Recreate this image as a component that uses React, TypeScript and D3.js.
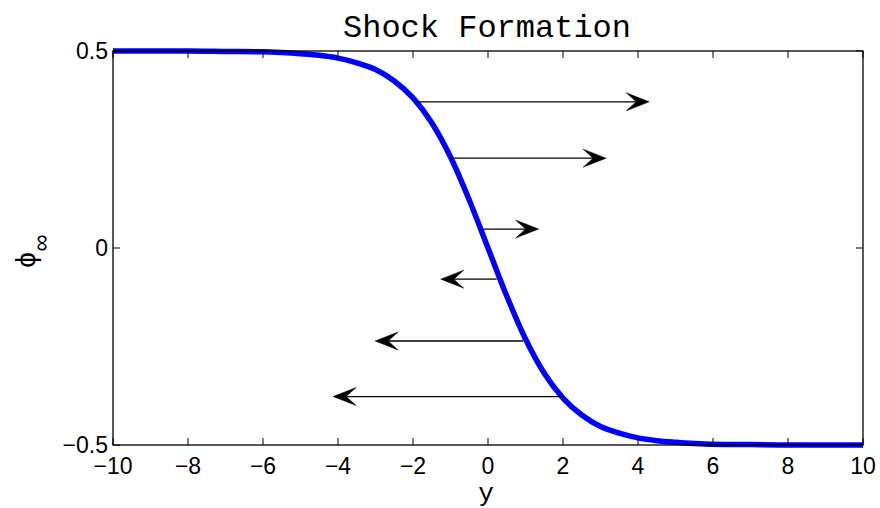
import React from "react";
import * as d3 from "d3";

// Curve samples: position y and phi_inf
const curveX = [-10, -9, -8, -7, -6, -5.5, -5, -4.5, -4, -3.5, -3, -2.5, -2, -1.5, -1, -0.5, 0, 0.5, 1, 1.5, 2, 2.5, 3, 3.5, 4, 4.5, 5, 5.5, 6, 7, 8, 9, 10];
const curveY = [0.5, 0.5, 0.5, 0.499, 0.498, 0.496, 0.493, 0.489, 0.482, 0.47, 0.453, 0.424, 0.381, 0.318, 0.231, 0.122, 0.0, -0.122, -0.231, -0.318, -0.381, -0.424, -0.453, -0.47, -0.482, -0.489, -0.493, -0.496, -0.498, -0.499, -0.5, -0.5, -0.5];

// Arrows: level (phi), start x (on curve), tip x
const arrowPhi = [0.371, 0.228, 0.048, -0.079, -0.236, -0.377];
const arrowStart = [-1.92, -1.01, -0.125, 0.23, 0.94, 2.01];
const arrowEnd = [4.3, 3.15, 1.35, -1.26, -3.01, -4.13];

const xTicks = [-10, -8, -6, -4, -2, 0, 2, 4, 6, 8, 10];
const yTicks = [-0.5, 0, 0.5];
const yTickLabels = ["\u22120.5", "0", "0.5"];

const titleText = "Shock Formation";
const xLabel = "y";
const yLabelMain = "\u03d5";
const yLabelSub = "\u221e";

const W = 880;
const H = 508;
const L = 113, R = 863, T = 51, B = 445;

export default function App() {
  const x = d3.scaleLinear().domain([-10, 10]).range([L, R]);
  const y = d3.scaleLinear().domain([-0.5, 0.5]).range([B, T]);
  const line = d3
    .line<number>()
    .x((_, i) => x(curveX[i]))
    .y((d) => y(d))
    .curve(d3.curveMonotoneX);
  const sans = "'Liberation Sans', Arial, Helvetica, sans-serif";
  const mono = "'Liberation Mono', 'Courier New', Courier, monospace";
  const tickLen = 7;

  const arrowHead = (tx: number, ty: number, dir: number) => {
    const hl = 23, hw = 9, notch = 13;
    return `M${tx},${ty} L${tx - dir * hl},${ty - hw} L${tx - dir * notch},${ty} L${tx - dir * hl},${ty + hw} Z`;
  };

  return (
    <svg
      width={W}
      height={H}
      style={{ position: "absolute", left: 0, top: 0, background: "#fff" }}
    >
      <rect x={0} y={0} width={W} height={H} fill="#fff" />
      <path
        d={line(curveY) || ""}
        fill="none"
        stroke="#0000ff"
        strokeWidth={5.5}
        strokeLinejoin="round"
      />
      {arrowPhi.map((p, i) => {
        const sx = x(arrowStart[i]);
        const tx = x(arrowEnd[i]);
        const ty = y(p);
        const dir = tx > sx ? 1 : -1;
        return (
          <g key={i}>
            <line x1={sx} y1={ty} x2={tx - dir * 13} y2={ty} stroke="#000" strokeWidth={1.3} />
            <path d={arrowHead(tx, ty, dir)} fill="#000" stroke="#000" strokeWidth={0.5} strokeLinejoin="miter" />
          </g>
        );
      })}
      {/* axes box */}
      <rect x={L} y={T} width={R - L} height={B - T} fill="none" stroke="#000" strokeWidth={1.3} />
      {xTicks.map((t) => (
        <g key={"x" + t}>
          <line x1={x(t)} x2={x(t)} y1={B} y2={B - tickLen} stroke="#000" strokeWidth={1} />
          <line x1={x(t)} x2={x(t)} y1={T} y2={T + tickLen} stroke="#000" strokeWidth={1} />
          <text
            x={x(t)}
            y={B + 29}
            textAnchor="middle"
            fontFamily={sans}
            fontSize={23}
            fill="#000"
          >
            {t < 0 ? "\u2212" + Math.abs(t) : String(t)}
          </text>
        </g>
      ))}
      {yTicks.map((t, i) => (
        <g key={"y" + t}>
          <line x1={L} x2={L + tickLen} y1={y(t)} y2={y(t)} stroke="#000" strokeWidth={1} />
          <line x1={R} x2={R - tickLen} y1={y(t)} y2={y(t)} stroke="#000" strokeWidth={1} />
          <text
            x={L - 5}
            y={y(t) + 8}
            textAnchor="end"
            fontFamily={sans}
            fontSize={23}
            fill="#000"
          >
            {yTickLabels[i]}
          </text>
        </g>
      ))}
      <text
        x={(L + R) / 2 - 1}
        y={37}
        textAnchor="middle"
        fontFamily={mono}
        fontSize={32}
        fill="#000"
      >
        {titleText}
      </text>
      <text
        x={486}
        y={501}
        textAnchor="middle"
        fontFamily={mono}
        fontSize={26}
        fill="#000"
      >
        {xLabel}
      </text>
      <text
        transform="translate(35,260) rotate(-90)"
        textAnchor="middle"
        fontFamily={sans}
        fontSize={28}
        fill="#000"
      >
        {yLabelMain}
      </text>
      <text
        transform="translate(49,243) rotate(-90)"
        textAnchor="middle"
        fontFamily={sans}
        fontSize={24}
        fill="#000"
      >
        {yLabelSub}
      </text>
    </svg>
  );
}
